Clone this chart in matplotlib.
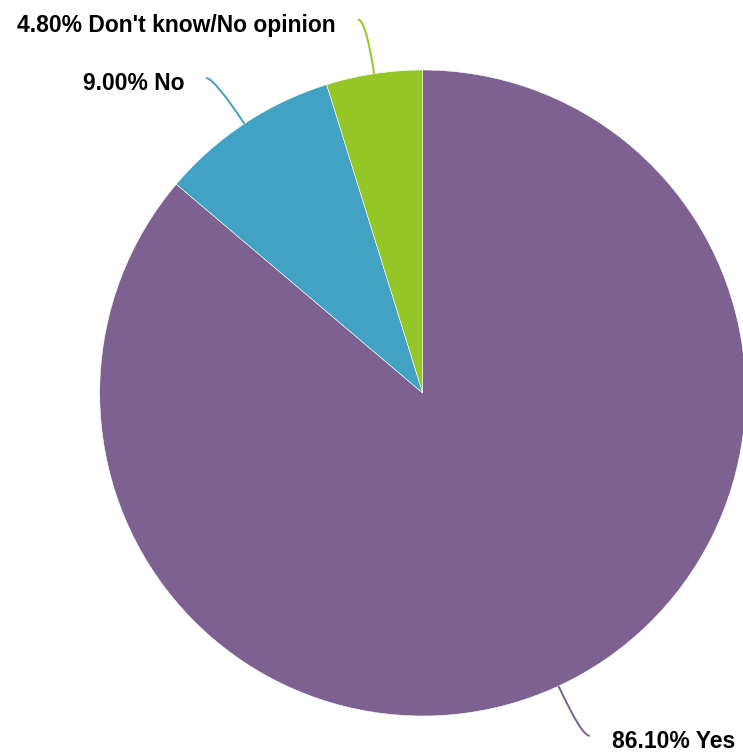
import numpy as np
import matplotlib.pyplot as plt
from matplotlib.path import Path
from matplotlib.patches import PathPatch

labels = ["Yes", "No", "Don't know/No opinion"]
values = [86.10, 9.00, 4.80]
colors = ["#7d6190", "#41a2c3", "#95c628"]

plt.rcParams['font.family'] = ['Liberation Sans', 'DejaVu Sans']

fig = plt.figure(figsize=(7.43, 7.56), dpi=100)
ax = fig.add_axes([0, 0, 1, 1])

wedges, _ = ax.pie(values, colors=colors, startangle=90, counterclock=False,
                   wedgeprops=dict(edgecolor='white', linewidth=0.4))

# leader lines: out radially, then a short horizontal hook
for w, lab, val, col in zip(wedges, labels, values, colors):
    mid = np.deg2rad((w.theta1 + w.theta2) / 2)
    dx, dy = np.cos(mid), np.sin(mid)
    side = 1 if dx >= 0 else -1
    p0 = (dx, dy)
    p1 = (1.17 * dx, 1.17 * dy)
    p2 = (p1[0] + side * 0.025, p1[1])
    path = Path([p0, p1, p2], [Path.MOVETO, Path.CURVE3, Path.CURVE3])
    ax.add_patch(PathPatch(path, facecolor='none', edgecolor=col, lw=1.4))
    ax.text(p2[0] + side * 0.068, p2[1] - 0.018, f"{val:.2f}% {lab}",
            ha='left' if side > 0 else 'right', va='center',
            fontsize=16.5, fontweight='bold', color='black')

ax.set_xlim(-1.3087, 0.9916)
ax.set_ylim(-1.1238, 1.2167)
ax.set_aspect('auto')
ax.axis('off')

fig.savefig('out.png', dpi=100)
